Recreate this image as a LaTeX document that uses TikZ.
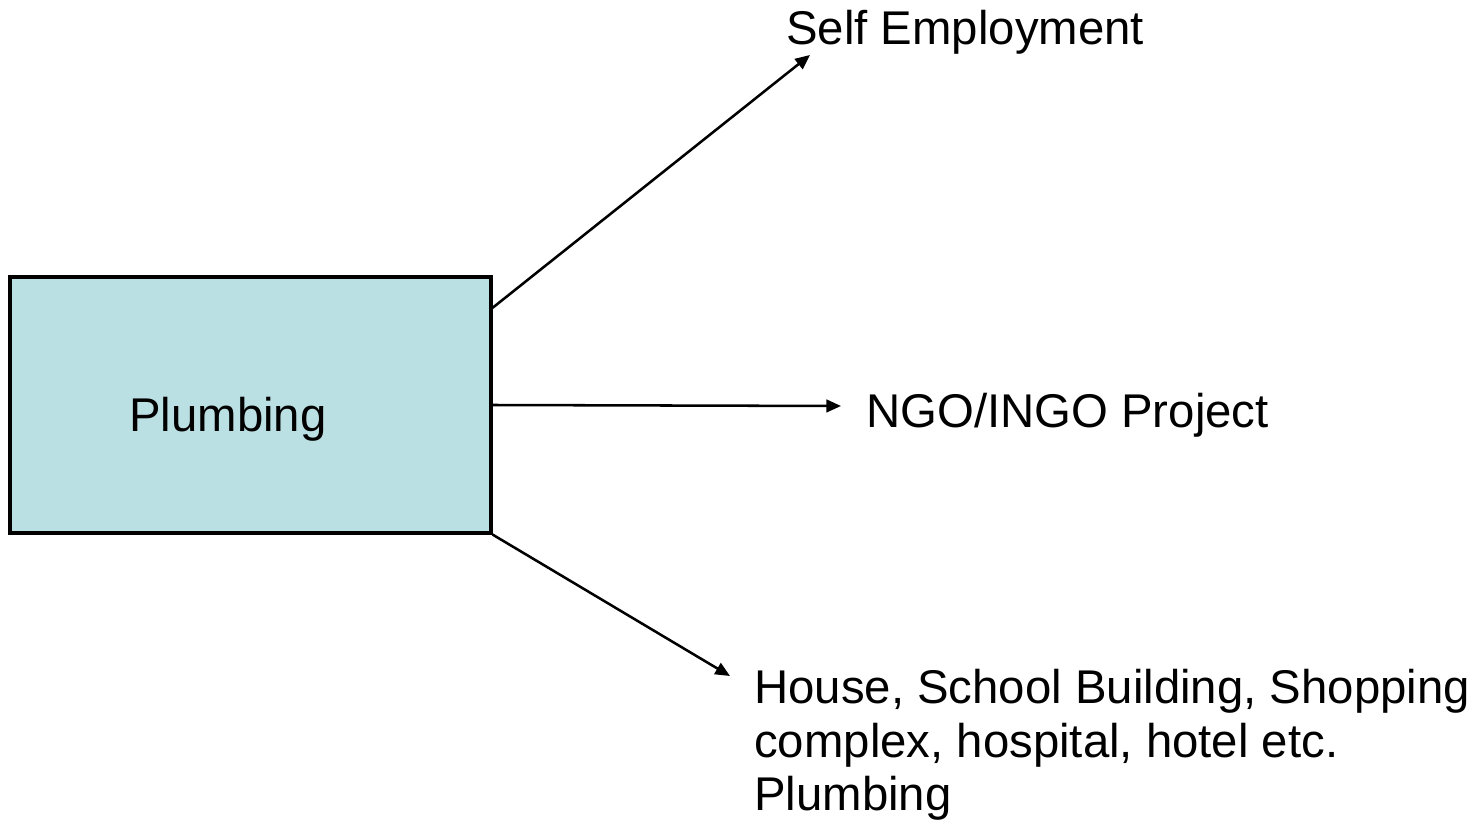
\documentclass[tikz,border=0pt]{standalone}
\usepackage{fontspec}
\setmainfont{Liberation Sans}
\usetikzlibrary{arrows.meta,calc}

\tikzset{every picture/.style={line width=1.9pt}}
\tikzset{
  plumbbox/.style={draw, line width=2.3pt, fill={rgb, 255:red, 187; green, 224; blue, 227 }, minimum width=360.75pt, minimum height=192pt, inner sep=0pt},
  lbl/.style={inner sep=0pt, font=\fontsize{35.5}{40.1}\selectfont},
  arr/.style={-{Triangle[length=11pt,width=9.5pt]}}
}

\begin{document}
\begin{tikzpicture}[x=0.75pt,y=0.75pt,yscale=-1,xscale=1]
\useasboundingbox (0,0) rectangle (1482,831);

%Shape: Rectangle
\node [plumbbox] (box) at (250.5,405) {};
\node [lbl, anchor=base west] (plumb) at (128,431) {Plumbing};

%Text
\node [lbl, anchor=base west] (selfemp) at (785,45) {Self Employment};
\node [lbl, anchor=base west] (ngo) at (865,427) {NGO/INGO Project};
\node [lbl, anchor=north west, align=left] (house) at (753,668) {House, School Building, Shopping\\complex, hospital, hotel etc.\\Plumbing};

%Arrow tips
\coordinate (tipself) at (810,55);
\coordinate (tipngo) at (841,406);
\coordinate (tiphouse) at (730,676);

%Straight Lines
\draw [arr] ($(box.north east)!0.125!(box.south east)$) -- (tipself);
\draw [arr] (box.east) -- (tipngo);
\draw [arr] (box.south east) -- (tiphouse);

\end{tikzpicture}
\end{document}
